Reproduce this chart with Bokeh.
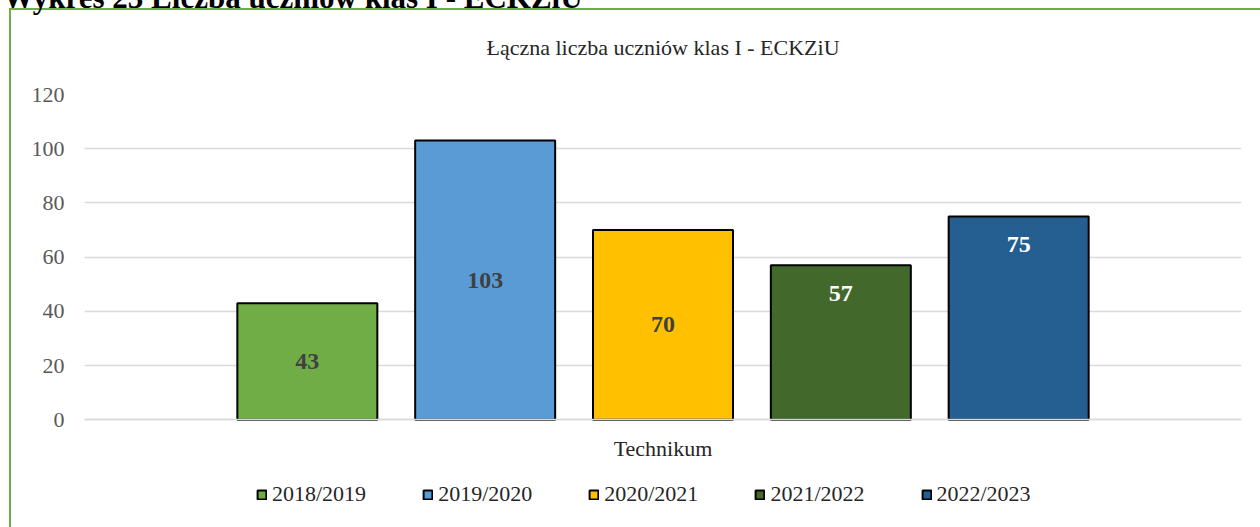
from bokeh.plotting import figure
from bokeh.models import FactorRange, Legend, LegendItem, ColumnDataSource, FixedTicker, Div
from bokeh.layouts import column
from bokeh.transform import dodge
from bokeh.core.properties import value
from bokeh.embed import file_html
from bokeh.resources import INLINE

# ---- data ----
category = ["Technikum"]
years = ["2018/2019", "2019/2020", "2020/2021", "2021/2022", "2022/2023"]
counts = [43, 103, 70, 57, 75]
colors = ["#70AD47", "#5B9BD5", "#FFC000", "#43682B", "#255E91"]
label_pos = ["center", "center", "center", "inside_end", "inside_end"]
label_colors = ["#404040", "#404040", "#404040", "#FFFFFF", "#FFFFFF"]
y_ticks = [0, 20, 40, 60, 80, 100, 120]
title_text = "Łączna liczba uczniów klas I - ECKZiU"
header_text = "Wykres 23 Liczba uczniów klas I - ECKZiU"

FONT = "Liberation Serif"
TEXT_DARK = "#262626"
W, H = 1260, 527
BORDER = "#70AD47"
FRAME_TOP, FRAME_BOTTOM = 93, 419          # pixel rows of 120 and 0
Y_MAX = y_ticks[-1]
y_start = -(H - FRAME_BOTTOM) / (FRAME_BOTTOM - FRAME_TOP) * Y_MAX   # room below 0 for labels/legend

p = figure(width=W, height=H, x_range=FactorRange(*category), y_range=(y_start, Y_MAX),
           output_backend="svg", toolbar_location=None,
           min_border_left=84, min_border_right=19, min_border_top=FRAME_TOP, min_border_bottom=0)
p.background_fill_color = None
p.border_fill_color = None
p.outline_line_color = None
p.styles = {"background":
            f"linear-gradient({BORDER},{BORDER}) 9px 8px / 2px 100% no-repeat, "
            f"linear-gradient({BORDER},{BORDER}) 9px 8px / 100% 2px no-repeat"}

p.title.text = title_text
p.title.align = "center"
p.title.vertical_align = "middle"
p.title.text_font = FONT
p.title.text_font_size = "22px"
p.title.text_font_style = "normal"
p.title.text_color = TEXT_DARK
p.title.standoff = 67

# y axis
ya = p.yaxis[0]
ya.ticker = FixedTicker(ticks=y_ticks)
ya.axis_line_color = None
ya.major_tick_line_color = None
ya.minor_tick_line_color = None
ya.major_tick_out = 0
ya.major_tick_in = 0
ya.major_label_standoff = 20
ya.major_label_text_font = FONT
ya.major_label_text_font_size = "22px"
ya.major_label_text_color = "#595959"

# x axis drawn at value 0 inside the frame
xa = p.xaxis[0]
xa.fixed_location = 0
xa.axis_line_color = "#D9D9D9"
xa.axis_line_width = 1.5
xa.major_tick_line_color = None
xa.major_tick_out = 0
xa.major_tick_in = 0
xa.major_label_standoff = 16
xa.major_label_text_font = FONT
xa.major_label_text_font_size = "22px"
xa.major_label_text_color = TEXT_DARK

p.xgrid.grid_line_color = None
p.ygrid.grid_line_color = "#D9D9D9"
p.ygrid.grid_line_width = 1.5

step = 0.1537
bar_w = 0.121
items = []
for i, (yr, c, col) in enumerate(zip(years, counts, colors)):
    off = (i - 2) * step
    src = ColumnDataSource(dict(x=category, top=[c], lbl=[str(c)],
                                ly=[c / 2 if label_pos[i] == "center" else c]))
    r = p.vbar(x=dodge("x", off, range=p.x_range), top="top", width=bar_w, source=src,
               fill_color=col, line_color="black", line_width=2)
    p.text(x=dodge("x", off, range=p.x_range), y="ly", text="lbl", source=src,
           text_align="center", text_baseline="middle",
           y_offset=(0 if label_pos[i] == "center" else 28),
           text_font=value(FONT), text_font_size="24px", text_font_style="bold",
           text_color=label_colors[i])
    items.append(LegendItem(label=yr, renderers=[r]))

legend = Legend(items=items, orientation="horizontal", location=(172, 20),
                glyph_width=11, glyph_height=11, label_standoff=5, spacing=56,
                padding=0, margin=0, border_line_color=None, background_fill_alpha=0,
                label_text_font=FONT, label_text_font_size="22px", label_text_color=TEXT_DARK)
p.add_layout(legend)

header = Div(text=header_text, width=760, height=34,
             styles={"position": "absolute", "top": "-23px", "left": "-2px",
                     "font-family": FONT, "font-size": "31px", "font-weight": "bold",
                     "line-height": "1", "color": "#000000", "white-space": "nowrap",
                     "z-index": "2"})

layout = column(header, p, spacing=0)
open("out.html", "w").write(file_html(layout, INLINE))
